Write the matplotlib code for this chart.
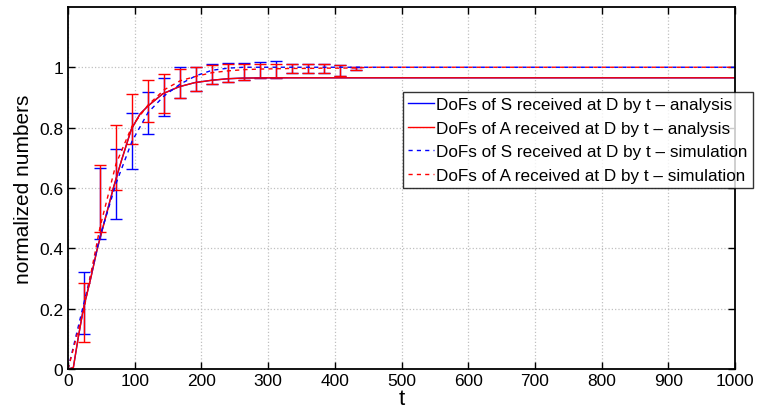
import numpy as np
import matplotlib
matplotlib.use("Agg")
import matplotlib.pyplot as plt

plt.rcParams['font.family'] = ['Liberation Sans', 'DejaVu Sans']

# analysis curves
t_ana = [0, 8, 15, 23, 34, 44, 56, 68, 80, 95, 108, 120, 142, 166, 190, 216, 240, 262, 300, 400, 1000]
s_ana = [0, 0.005, 0.1, 0.2, 0.3, 0.4, 0.5, 0.6, 0.69, 0.795, 0.845, 0.872, 0.912, 0.935, 0.949, 0.957, 0.962, 0.964, 0.965, 0.965, 0.965]
a_ana = [0, 0.005, 0.1, 0.2, 0.3, 0.4, 0.5, 0.6, 0.69, 0.795, 0.845, 0.872, 0.912, 0.935, 0.949, 0.957, 0.962, 0.964, 0.965, 0.965, 0.965]

# simulation means
t_sim = [0, 24, 48, 72, 96, 120, 144, 168, 192, 216, 240, 264, 288, 312, 336, 360, 384, 408, 432, 456, 1000]
s_sim = [0, 0.22, 0.44, 0.615, 0.755, 0.85, 0.905, 0.944, 0.972, 0.99, 0.997, 1.0, 1.0, 1.0, 1.0, 1.0, 1.0, 1.0, 1.0, 1.0, 1.0]
a_sim = [0, 0.2, 0.47, 0.68, 0.805, 0.875, 0.925, 0.955, 0.97, 0.982, 0.988, 0.992, 0.994, 0.995, 0.996, 0.996, 0.997, 0.997, 0.998, 1.0, 1.0]

# error bar ends (simulation spread)
t_bar = [24, 48, 72, 96, 120, 144, 168, 192, 216, 240, 264, 288, 312, 336, 360, 384, 408, 432]
s_lo = [0.116, 0.43, 0.498, 0.662, 0.778, 0.837, 0.897, 0.92, 0.944, 0.95, 0.957, 0.964, 0.964, 0.982, 0.982, 0.982, 0.97, 0.99]
s_hi = [0.322, 0.665, 0.728, 0.848, 0.918, 0.966, 1.0, 1.002, 1.01, 1.013, 1.015, 1.019, 1.02, 1.01, 1.01, 1.01, 1.008, 1.0]
a_lo = [0.089, 0.455, 0.593, 0.745, 0.82, 0.85, 0.897, 0.92, 0.944, 0.95, 0.957, 0.964, 0.964, 0.982, 0.982, 0.982, 0.97, 0.99]
a_hi = [0.285, 0.676, 0.808, 0.911, 0.957, 0.979, 0.993, 1.0, 1.008, 1.012, 1.01, 1.012, 1.01, 1.01, 1.01, 1.01, 1.008, 1.0]

labels = ['DoFs of S received at D by t \u2013 analysis',
          'DoFs of A received at D by t \u2013 analysis',
          'DoFs of S received at D by t \u2013 simulation',
          'DoFs of A received at D by t \u2013 simulation']

fig = plt.figure(figsize=(7.59, 4.14), dpi=100)
ax = fig.add_axes([0.0896, 0.106, 0.8788, 0.875])

def bars(lo, hi, color):
    lo = np.array(lo)
    hi = np.array(hi)
    ax.errorbar(t_bar, (lo + hi) / 2, yerr=(hi - lo) / 2, fmt='none',
                ecolor=color, elinewidth=1.0, capsize=4.5, capthick=1.0)

bars(s_lo, s_hi, 'blue')
bars(a_lo, a_hi, 'red')

l1, = ax.plot(t_ana, s_ana, color='blue', lw=1.0)
l2, = ax.plot(t_ana, a_ana, color='red', lw=1.0)
l3, = ax.plot(t_sim, s_sim, color='blue', lw=1.0, ls=(0, (3, 3)))
l4, = ax.plot(t_sim, a_sim, color='red', lw=1.0, ls=(0, (3, 3)))

ax.set_xlim(0, 1000)
ax.set_ylim(0, 1.2)
ax.set_xticks(np.arange(0, 1001, 100))
ax.set_yticks([0, 0.2, 0.4, 0.6, 0.8, 1.0])
ax.set_yticklabels(['0', '0.2', '0.4', '0.6', '0.8', '1'])
ax.grid(True, color='#c0c0c0', linestyle=':', linewidth=0.9)
ax.tick_params(direction='in', top=True, right=True, length=5, labelsize=12.5, width=1)
ax.tick_params(axis='x', pad=3)
for s in ax.spines.values():
    s.set_linewidth(1.3)

ax.set_xlabel('t', fontsize=16, labelpad=0)
ax.set_ylabel('normalized numbers', fontsize=15, labelpad=4)

leg = fig.legend([l1, l2, l3, l4], labels, loc='upper left',
                 bbox_to_anchor=(403 / 759, 1 - 93 / 414), bbox_transform=fig.transFigure,
                 fontsize=12.3, frameon=True, fancybox=False, borderaxespad=0,
                 handlelength=1.5, handletextpad=0.15, borderpad=0.3, labelspacing=0.5)
leg.get_frame().set_edgecolor('black')
leg.get_frame().set_linewidth(1.0)

fig.savefig('out.png', dpi=100)
